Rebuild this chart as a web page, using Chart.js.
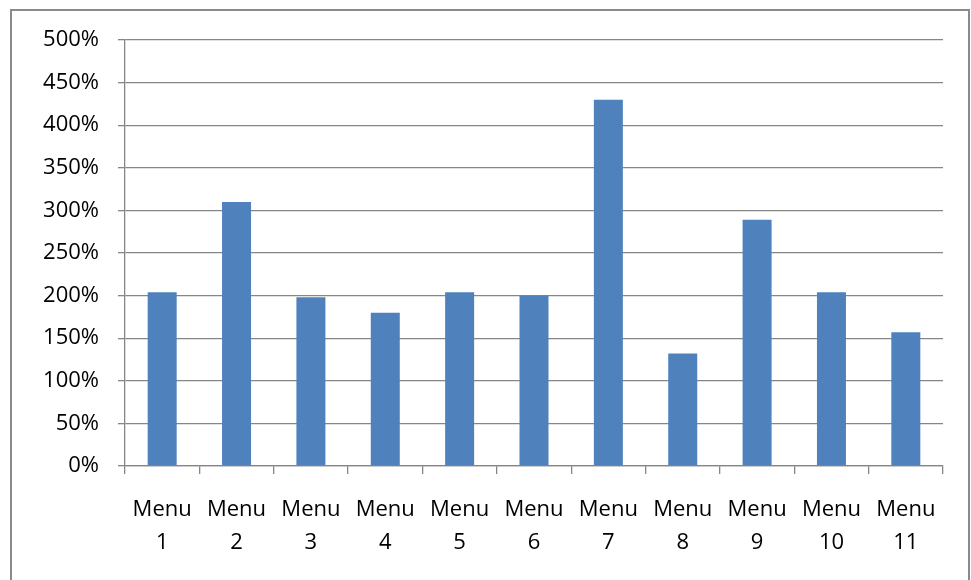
<!DOCTYPE html>
<html>
<head>
<meta charset="utf-8">
<script src="https://cdn.jsdelivr.net/npm/chart.js@4"></script>
<style>
  html, body { margin: 0; padding: 0; background: #ffffff; overflow: hidden; }
  #wrap { position: relative; width: 971px; height: 580px; overflow: hidden; }
  #frame { position: absolute; left: 10px; top: 9px; width: 960px; height: 600px; border: 2px solid #8a8a8a; box-sizing: border-box; }
  canvas { position: absolute; left: 0; top: 0; }
</style>
</head>
<body>
<div id="wrap">
  <div id="frame"></div>
  <canvas id="c" width="971" height="580"></canvas>
</div>
<script>
const categories = ['Menu 1', 'Menu 2', 'Menu 3', 'Menu 4', 'Menu 5', 'Menu 6', 'Menu 7', 'Menu 8', 'Menu 9', 'Menu 10', 'Menu 11'];
const values = [204, 310, 198, 180, 204, 200, 430, 132, 289, 204, 157]; // percent
const yTickMin = 0;
const yTickMax = 500;
const yTickStep = 50;

const gridColor = '#868686';
const fontFamily = '"Open Sans", "Liberation Sans", sans-serif';

new Chart(document.getElementById('c'), {
  type: 'bar',
  data: {
    labels: categories.map(s => s.split(' ')),
    datasets: [{
      data: values,
      backgroundColor: '#4f81bd',
      borderWidth: 0,
      categoryPercentage: 1,
      barPercentage: 0.39
    }]
  },
  options: {
    responsive: false,
    animation: false,
    devicePixelRatio: 1,
    layout: { padding: { top: 40, right: 28, left: 0, bottom: 0 } },
    plugins: { legend: { display: false }, tooltip: { enabled: false } },
    scales: {
      x: {
        offset: true,
        grid: { offset: true, drawOnChartArea: false, drawTicks: true, tickLength: 8, color: gridColor, lineWidth: 1.3 },
        border: { display: true, color: gridColor, width: 1.3 },
        ticks: { color: '#000', font: { family: fontFamily, size: 22, lineHeight: 1.52 }, padding: 19, maxRotation: 0, autoSkip: false },
        afterFit: s => { s.height = 114; }
      },
      y: {
        min: yTickMin,
        max: yTickMax,
        grid: { drawOnChartArea: true, drawTicks: true, tickLength: 7, color: gridColor, lineWidth: 1.3 },
        border: { display: true, color: gridColor, width: 1.3 },
        ticks: { stepSize: yTickStep, color: '#000', font: { family: fontFamily, size: 22 }, padding: 19, callback: v => v + '%' },
        afterFit: s => { s.width = 125; }
      }
    }
  }
});
</script>
</body>
</html>
